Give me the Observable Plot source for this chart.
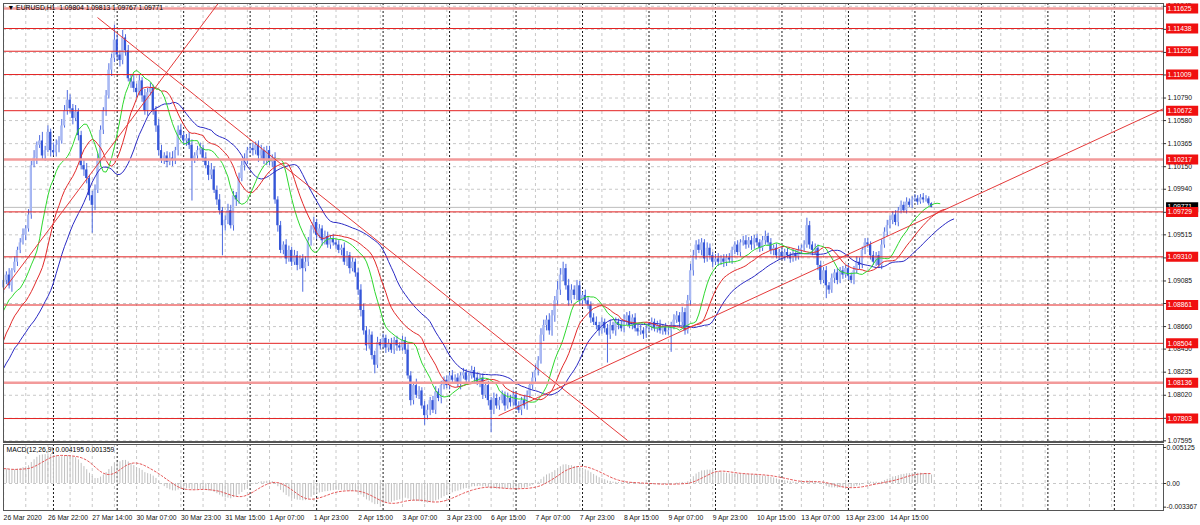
<!DOCTYPE html>
<html><head><meta charset="utf-8">
<script src="https://cdn.jsdelivr.net/npm/d3@7"></script>
<script src="https://cdn.jsdelivr.net/npm/@observablehq/plot@0.6"></script>
<style>
body{margin:0;background:#fff;}
#wrap{position:relative;width:1200px;height:525px;overflow:hidden;background:#fff;}
#wrap svg{position:absolute;left:0;}
#sep{position:absolute;left:3px;width:1161px;top:441px;height:2px;background:#555;}
</style></head><body><div id="wrap"><div id="sep"></div></div>
<script>
// ---- data (EURUSD H1, bar index 0 = 26 Mar 2020 06:00) ----
const firstOpen = 1.0902;
const closes = [
1.0909,1.0914,1.0904,1.0918,1.0926,1.0937,1.0944,1.0951,1.0957,1.0970,
1.1016,1.1023,1.1035,1.1039,1.1025,1.1030,1.1047,1.1030,1.1028,1.1035,
1.1039,1.1053,1.1067,1.1077,1.1069,1.1060,1.1066,1.1044,1.1016,1.1012,
1.1004,1.0988,1.0979,1.0993,1.1021,1.1049,1.1067,1.1081,1.1105,1.1116,
1.1133,1.1119,1.1114,1.1135,1.1123,1.1097,1.1094,1.1088,1.1084,1.1095,
1.1081,1.1067,1.1084,1.1088,1.1067,1.1053,1.1030,1.1021,1.1025,1.1019,
1.1023,1.1021,1.1030,1.1049,1.1044,1.1039,1.1041,1.1035,1.1021,1.1025,
1.1030,1.1032,1.1023,1.1016,1.1007,1.1012,1.0993,1.0984,1.0974,1.0960,
1.0965,1.0974,1.0960,1.0988,1.0984,1.1004,1.1016,1.1021,1.1030,1.1032,
1.1030,1.1035,1.1025,1.1030,1.1021,1.1030,1.1019,1.1023,1.0984,1.0960,
1.0937,1.0942,1.0929,1.0937,1.0926,1.0932,1.0923,1.0929,1.0920,1.0926,
1.0946,1.0956,1.0963,1.0951,1.0957,1.0946,1.0950,1.0942,1.0948,1.0944,
1.0942,1.0937,1.0939,1.0926,1.0932,1.0920,1.0926,1.0916,1.0900,1.0881,
1.0862,1.0848,1.0858,1.0839,1.0830,1.0851,1.0848,1.0855,1.0846,1.0850,
1.0844,1.0853,1.0848,1.0846,1.0853,1.0844,1.0820,1.0797,1.0811,1.0802,
1.0806,1.0792,1.0783,1.0788,1.0797,1.0788,1.0805,1.0799,1.0811,1.0816,
1.0811,1.0820,1.0816,1.0818,1.0812,1.0820,1.0823,1.0816,1.0820,1.0825,
1.0818,1.0814,1.0818,1.0802,1.0811,1.0797,1.0788,1.0799,1.0792,1.0797,
1.0802,1.0792,1.0799,1.0795,1.0802,1.0792,1.0788,1.0797,1.0792,1.0802,
1.0811,1.0818,1.0825,1.0834,1.0858,1.0867,1.0872,1.0862,1.0876,1.0890,
1.0900,1.0914,1.0920,1.0904,1.0890,1.0900,1.0895,1.0904,1.0890,1.0895,
1.0890,1.0886,1.0874,1.0870,1.0867,1.0862,1.0870,1.0864,1.0858,1.0867,
1.0862,1.0870,1.0867,1.0864,1.0872,1.0876,1.0867,1.0874,1.0864,1.0861,
1.0862,1.0859,1.0864,1.0866,1.0870,1.0864,1.0867,1.0862,1.0865,1.0861,
1.0862,1.0867,1.0872,1.0876,1.0870,1.0879,1.0862,1.0890,1.0918,1.0932,
1.0942,1.0937,1.0944,1.0929,1.0939,1.0932,1.0926,1.0929,1.0926,1.0929,
1.0926,1.0930,1.0928,1.0937,1.0942,1.0935,1.0944,1.0946,1.0942,1.0946,
1.0942,1.0948,1.0944,1.0939,1.0946,1.0950,1.0944,1.0937,1.0939,1.0932,
1.0935,1.0931,1.0935,1.0932,1.0929,1.0934,1.0931,1.0937,1.0939,1.0942,
1.0960,1.0942,1.0937,1.0939,1.0923,1.0909,1.0918,1.0904,1.0900,1.0911,
1.0916,1.0909,1.0918,1.0914,1.0920,1.0913,1.0909,1.0918,1.0926,1.0923,
1.0937,1.0944,1.0942,1.0932,1.0926,1.0932,1.0923,1.0942,1.0954,1.0960,
1.0965,1.0970,1.0963,1.0974,1.0979,1.0974,1.0982,1.0979,1.0984,1.0985,
1.0982,1.0986,1.0984,1.0985,1.09804,1.09771
];
// wick lengths in pips above / below the candle body
const wickUp = [
4,3,6,2,5,3,4,6,3,5,4,7,3,5,8,4,6,3,7,5,4,6,5,9,
5,4,6,3,4,5,6,3,4,5,6,4,3,5,6,4,14,5,4,7,3,5,4,6,
4,5,3,6,4,5,3,4,6,5,3,4,5,6,3,4,5,3,4,6,5,3,4,5,
3,5,4,6,3,4,5,3,4,6,5,4,3,5,4,6,3,4,5,3,4,5,3,4,
4,3,5,3,4,3,5,4,3,5,4,3,4,5,3,4,5,3,4,3,5,4,3,4,
3,4,3,5,4,3,4,3,4,5,6,4,5,3,4,5,3,4,3,4,5,3,4,3,
4,3,5,4,3,6,4,3,4,5,3,4,5,3,4,3,4,3,5,3,4,3,4,3,
3,4,3,5,3,4,3,4,3,5,4,3,4,3,5,3,4,3,4,3,5,4,3,5,
5,4,6,5,4,6,5,4,8,6,6,4,6,5,4,5,4,3,5,4,3,4,5,3,
4,3,4,5,3,4,3,4,5,3,4,3,4,3,5,3,4,3,4,3,4,5,3,4,
4,3,5,4,3,5,4,5,6,5,4,5,4,3,5,4,3,4,5,3,4,3,4,3,
3,4,3,4,5,3,4,3,4,3,4,5,3,4,3,4,3,4,3,4,3,4,3,4,
3,4,7,4,3,4,3,4,3,4,3,4,3,4,3,4,3,4,3,4,5,4,3,4,
4,3,4,3,4,5,4,5,4,3,4,3,4,3,4,3,3,4,3,3,4,3,2,0.9
];
const wickDn = [
5,4,3,6,2,4,3,2,5,3,4,2,6,3,4,5,2,6,3,4,7,3,2,4,
4,6,3,5,4,6,5,5,26,5,3,6,4,5,3,6,4,5,6,4,5,3,6,4,
5,3,6,4,5,3,4,6,5,3,4,5,3,6,4,5,3,4,5,4,38,3,5,4,
4,3,5,4,3,5,4,28,5,4,3,5,6,4,3,5,4,3,5,4,6,3,4,5,
3,5,4,6,3,4,5,3,4,3,5,4,22,3,4,5,3,4,3,5,4,3,4,3,
4,3,5,3,4,5,3,4,5,6,4,5,3,4,8,3,4,3,5,4,3,4,5,3,
3,4,3,5,4,3,4,3,9,4,5,3,4,3,5,4,3,4,3,4,3,5,3,4,
4,3,4,3,5,4,3,5,21,4,3,4,3,5,3,4,3,4,3,5,3,4,3,4,
4,5,3,6,5,4,5,6,4,5,6,4,5,3,4,5,4,5,3,4,5,3,4,5,
3,4,26,4,3,5,4,3,4,5,3,4,3,4,3,5,4,3,4,3,4,3,4,3,
3,20,4,3,5,3,4,3,4,5,4,3,5,4,3,4,5,3,4,3,5,4,3,4,
4,3,4,3,4,3,5,4,3,4,3,4,3,4,5,3,4,3,4,3,4,3,4,3,
4,3,3,4,5,4,5,4,3,12,4,3,5,4,3,4,3,4,3,4,3,4,3,4,
3,4,3,4,3,4,3,4,3,4,3,4,3,2,3,2,3,2,3,2,3,2,2,0.4
];
// Alligator values shown before the first computed point
const jawLead = [1.0827,1.0832,1.0836,1.0841,1.0846,1.0849,1.0853,1.0857];
const teethLead = [1.0853,1.0860,1.0865,1.0871,1.0876];
const lipsLead = [1.0881,1.0886,1.0891];
const ema12Seed = 1.0898, ema26Seed = 1.0876;

const levelsThin = [1.11438,1.11226,1.11009,1.10672,1.09729,1.09310,1.08861,1.08504,1.07803];
const levelsHeavy = [1.11625,1.10217,1.08136];
const lastPrice = 1.09771;
const gridTicks = [1.11645,1.11430,1.11215,1.11005,1.10790,1.10580,1.10365,1.10150,1.09940,1.09725,
  1.09515,1.09300,1.09085,1.08875,1.08660,1.08450,1.08235,1.08020,1.07805,1.07595];
const trendLines = [
  {b1: 33.9, p1: 1.1154, b2: 225.2, p2: 1.0760},
  {b1: 0, p1: 1.0900, b2: 78.3, p2: 1.1170},
  {b1: 178.7, p1: 1.0783, b2: 418.7, p2: 1.1069}
];
const dayStarts = [18,41,65,89,113,137,161,185,209,233,257,281,305,329,353,377,401];
const xLabelBars = [0,16,32,48,64,80,96,112,128,144,160,176,192,208,224,240,256,272,288,304,320];
const xLabels = ["26 Mar 2020","26 Mar 22:00","27 Mar 14:00","30 Mar 07:00","30 Mar 23:00","31 Mar 15:00",
  "1 Apr 07:00","1 Apr 23:00","2 Apr 15:00","3 Apr 07:00","3 Apr 23:00","6 Apr 15:00","7 Apr 07:00",
  "7 Apr 23:00","8 Apr 15:00","9 Apr 07:00","9 Apr 23:00","10 Apr 15:00","13 Apr 07:00","13 Apr 23:00","14 Apr 15:00"];
const macdTicks = [0.005125, 0, -0.003367];
const macdTickLabels = ["0.005125","0.00","-0.003367"];
const titleText = "\u25BC EURUSD,H1  1.09804 1.09813 1.09767 1.09771";
const macdTitle = "MACD(12,26,9) 0.004195 0.001359";

// ---- derived ----
const X0 = -0.04, X1 = 418.74;
const lightBars = d3.range(0, 419, 8);
const font = "Liberation Sans, Arial, sans-serif";
const fs = 6.8;

const bars = closes.map((c, i) => {
  const o = i === 0 ? firstOpen : closes[i - 1];
  return {i, o, c, up: c >= o,
    hi: Math.max(o, c) + wickUp[i] * 1e-4,
    lo: Math.min(o, c) - wickDn[i] * 1e-4};
});
const med = bars.map(b => (b.hi + b.lo) / 2);
function smma(src, n, seed) { let s = seed; return src.map(v => (s = (s * (n - 1) + v) / n)); }
function alligator(lead, n, shift) {
  const comp = smma(med, n, lead[lead.length - 1]);
  return [...lead.map((v, k) => ({x: k, y: v})), ...comp.map((v, i) => ({x: i + shift, y: v}))];
}
const jaw = alligator(jawLead, 13, 8);
const teeth = alligator(teethLead, 8, 5);
const lips = alligator(lipsLead, 5, 3);

function ema(src, n, seed) { const a = 2 / (n + 1); let e = seed; return src.map(v => (e = e + a * (v - e))); }
const e12 = ema(closes, 12, ema12Seed), e26 = ema(closes, 26, ema26Seed);
const macd = closes.map((c, i) => ({i, m: e12[i] - e26[i]}));

const allLevels = [...levelsThin, ...levelsHeavy];
const visDays = dayStarts.filter(d => d <= X1);

const main = Plot.plot({
  width: 1200, height: 443, marginLeft: 3, marginRight: 37, marginTop: 3, marginBottom: 2,
  x: {domain: [X0, X1], axis: null},
  y: {domain: [1.07589, 1.11671], axis: null},
  style: {fontFamily: font, fontSize: fs + "px", background: "transparent", color: "#000"},
  marks: [
    Plot.ruleX(lightBars, {stroke: "#c8c8c8", strokeDasharray: "3,3"}),
    Plot.ruleY(gridTicks, {stroke: "#c8c8c8", strokeDasharray: "3,3"}),
    Plot.ruleX(visDays, {stroke: "#1a1a1a", strokeDasharray: "2,2"}),
    Plot.ruleY([lastPrice], {stroke: "#bcbcbc"}),
    Plot.ruleX(bars, {x: "i", y1: "lo", y2: "hi", stroke: "#4d6ae0"}),
    Plot.rect(bars, {x1: d => d.i - 0.4, x2: d => d.i + 0.4, y1: "o", y2: "c",
      fill: d => d.up ? "#a9b9f3" : "#3556d8"}),
    Plot.line(jaw, {x: "x", y: "y", stroke: "#2a2ac4", strokeWidth: 1}),
    Plot.line(teeth, {x: "x", y: "y", stroke: "#e22a2a", strokeWidth: 1}),
    Plot.line(lips, {x: "x", y: "y", stroke: "#2ed82e", strokeWidth: 1}),
    Plot.ruleY(levelsHeavy, {stroke: "#f29a9a", strokeWidth: 2.5}),
    Plot.ruleY(levelsThin, {stroke: "#e32222"}),
    Plot.link(trendLines, {x1: "b1", y1: "p1", x2: "b2", y2: "p2", stroke: "#e53a3a", clip: true}),
    Plot.frame({stroke: "#555"}),
    Plot.ruleY(gridTicks, {x1: X1, x2: X1 + 1.1, stroke: "#333"}),
    Plot.text(gridTicks, {y: d => d, frameAnchor: "right", dx: 4, textAnchor: "start",
      text: d => d.toFixed(5), fill: "#111", fontSize: fs}),
    Plot.ruleY([lastPrice], {x1: X1 + 1.1, x2: X1 + 12.7, stroke: "#000", strokeWidth: 10}),
    Plot.text([lastPrice], {y: d => d, frameAnchor: "right", dx: 4, dy: -1, textAnchor: "start",
      text: d => d.toFixed(5), fill: "#fff", fontSize: fs}),
    Plot.ruleY(allLevels, {x1: X1 + 1.1, x2: X1 + 12.7, stroke: "#f01010", strokeWidth: 10}),
    Plot.text(allLevels, {y: d => d, frameAnchor: "right", dx: 4, textAnchor: "start",
      text: d => d.toFixed(5), fill: "#fff", fontSize: fs}),
    Plot.text([titleText], {frameAnchor: "top-left", dx: 4, dy: 2, lineAnchor: "top",
      textAnchor: "start", fill: "#000", fontSize: fs})
  ]
});

const sub = Plot.plot({
  width: 1200, height: 82, marginLeft: 3, marginRight: 37, marginTop: 1, marginBottom: 15,
  x: {domain: [X0, X1], axis: null},
  y: {domain: [-0.003844, 0.005552], axis: null},
  style: {fontFamily: font, fontSize: fs + "px", background: "transparent", color: "#000"},
  marks: [
    Plot.ruleX(lightBars, {stroke: "#c8c8c8", strokeDasharray: "3,3"}),
    Plot.ruleY([0], {stroke: "#c8c8c8", strokeDasharray: "3,3"}),
    Plot.ruleX(visDays, {stroke: "#1a1a1a", strokeDasharray: "2,2"}),
    Plot.ruleX(macd, {x: "i", y1: 0, y2: "m", stroke: "#c0c0c0", clip: true}),
    Plot.line(macd, Plot.windowY({k: 9, anchor: "end", reduce: "mean"},
      {x: "i", y: "m", stroke: "#e24646", strokeWidth: 0.9, strokeDasharray: "2,2", clip: true})),
    Plot.frame({stroke: "#555"}),
    Plot.ruleY(macdTicks, {x1: X1, x2: X1 + 1.1, stroke: "#333"}),
    Plot.text(macdTicks, {y: d => d, frameAnchor: "right", dx: 3, textAnchor: "start",
      text: (d, i) => macdTickLabels[i], fill: "#111", fontSize: fs}),
    Plot.text([macdTitle], {frameAnchor: "top-left", dx: 3, dy: 3, lineAnchor: "top",
      textAnchor: "start", fill: "#000", fontSize: fs}),
    Plot.text(xLabelBars, {x: d => d, frameAnchor: "bottom", dy: 7, lineAnchor: "middle",
      textAnchor: "start", text: (d, i) => xLabels[i], fill: "#111", fontSize: fs})
  ]
});

const wrap = document.getElementById("wrap");
main.style.top = "0px";
sub.style.top = "443px";
wrap.insertBefore(main, wrap.firstChild);
wrap.appendChild(sub);
</script>
</body></html>
